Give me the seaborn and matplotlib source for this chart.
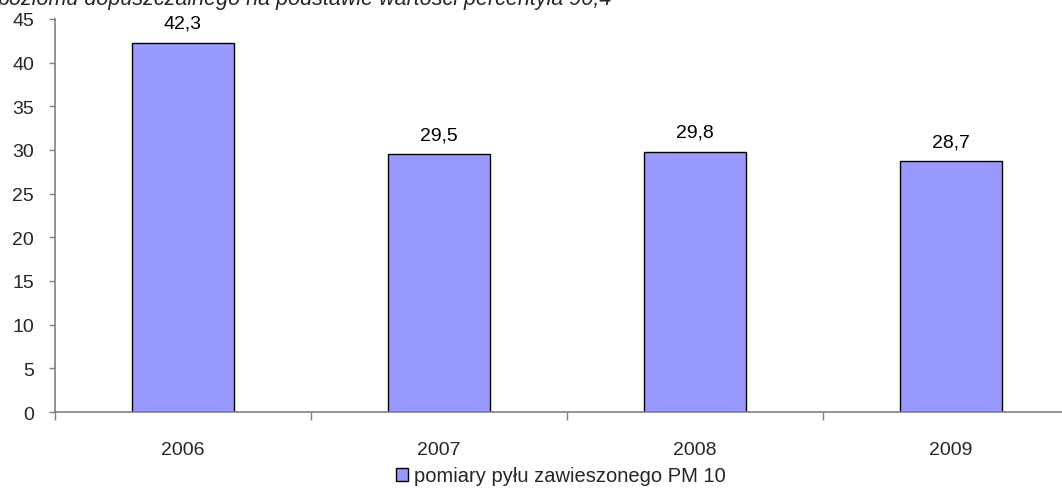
import matplotlib
matplotlib.use("Agg")
import matplotlib.pyplot as plt
import seaborn as sns
import pandas as pd
import numpy as np
from matplotlib.patches import Patch

years = ["2006", "2007", "2008", "2009"]
values = [42.3, 29.5, 29.8, 28.7]
value_labels = ["42,3", "29,5", "29,8", "28,7"]
series_name = "pomiary pyłu zawieszonego PM 10"
title_text = "poziomu dopuszczalnego na podstawie wartości percentyla 90,4"

sns.set_style("white")
plt.rcParams['font.family'] = ['Liberation Sans', 'DejaVu Sans']

W, H = 1062, 489
fig = plt.figure(figsize=(W / 100, H / 100), dpi=100)
ax = fig.add_axes([55 / W, 1 - 413 / H, 1024 / W, 393 / H])

df = pd.DataFrame({"year": years, "value": values, "series": series_name})
sns.barplot(data=df, x="year", y="value", hue="series", ax=ax,
            palette=["#9999FF"], width=0.4, edgecolor="black", linewidth=1.0,
            saturation=1, legend=False)

for p, lab in zip(ax.patches, value_labels):
    ax.annotate(lab, (p.get_x() + p.get_width() / 2, p.get_height()),
                xytext=(0, 14), textcoords="offset points",
                ha="center", va="center", fontsize=14, color="black")

ax.set_xlim(-0.5, 3.5)
ax.set_ylim(0, 45)
ax.set_yticks(np.arange(0, 46, 5))
ax.tick_params(axis="y", labelsize=14, length=4, width=1, color="#808080",
               left=True, pad=11)
ax.set_xticks(range(4))
ax.set_xticklabels(years)
ax.tick_params(axis="x", which="major", length=0, labelsize=14, pad=21)
ax.set_xticks(np.arange(-0.5, 3.6, 1), minor=True)
ax.tick_params(axis="x", which="minor", length=6, width=1, color="#808080",
               bottom=True)
ax.set_xlabel("")
ax.set_ylabel("")
for s in ["top", "right"]:
    ax.spines[s].set_visible(False)
for s in ["left", "bottom"]:
    ax.spines[s].set_color("#808080")
    ax.spines[s].set_linewidth(1.2)

handle = Patch(facecolor="#9999FF", edgecolor="black", linewidth=1.0)
fig.legend([handle], [series_name], loc="center", bbox_to_anchor=(561 / W, 1 - 477 / H),
           frameon=False, fontsize=14.5, handlelength=0.6, handleheight=0.6,
           handletextpad=0.3, borderpad=0)

fig.text(-2 / W, 1 - 5 / H, title_text, fontsize=15.5, style="italic",
         ha="left", va="baseline")

fig.savefig("out.png", dpi=100)
